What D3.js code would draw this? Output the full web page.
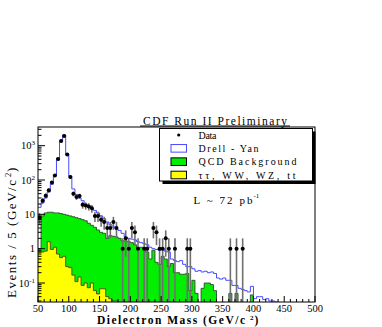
<!DOCTYPE html>
<html>
<head>
<meta charset="utf-8">
<script src="https://cdn.jsdelivr.net/npm/d3@7"></script>
<style>
  body { margin: 0; background: #fff; }
  text { font-family: "Liberation Serif", "Times New Roman", serif; fill: #000; }
</style>
</head>
<body>
<svg id="chart"></svg>
<script>
// 5 GeV bins, lower edges 50 ... 495
const binLow = d3.range(50, 500, 5);
const binWidth = 5;

// observed events per bin
const dataCounts = [
  8, 25, 35, 50, 85, 135, 410, 1370, 1900, 550,
  122, 40, 32, 34, 19, 18, 17, 15, 9, 9,
  7, 6, 4, 4, 6, 4, 0, 1, 2, 1,
  4, 3, 1, 0, 1, 1, 0, 4, 3, 1,
  1, 2, 1, 0, 1, 0, 0, 0, 1, 1,
  0, 0, 0, 0, 0, 0, 0, 0, 0, 0,
  0, 0, 1, 0, 1, 0, 1, 0, 0, 0,
  0, 0, 0, 0, 0, 0, 0, 0, 0, 0,
  0, 0, 0, 0, 0, 0, 0, 0, 0, 0
];

// Drell-Yan (total expectation, outline)
const drellYan = [
  16, 22, 30, 45, 75, 140, 380, 1300, 2050, 560,
  130, 55, 38, 30, 25, 20, 17, 15, 13, 11,
  9, 7.5, 6, 5, 4.3, 3.8, 3.4, 2.8, 2.2, 2.0,
  1.9, 1.8, 1.6, 1.5, 1.4, 1.3, 1.1, 1.0, 0.95, 0.9,
  0.95, 0.85, 0.8, 0.5, 0.45, 0.42, 0.45, 0.35, 0.3, 0.3,
  0.26, 0.22, 0.23, 0.21, 0.22, 0.2, 0.21, 0.19, 0.14, 0.13,
  0.14, 0.12, 0.12, 0.085, 0.085, 0.07, 0.065, 0.06, 0.055, 0.08,
  0.035, 0.04, 0.04, 0.033, 0.035, 0.03, 0.03, 0.028, 0, 0,
  0, 0, 0, 0, 0, 0, 0, 0, 0, 0
];

// QCD background (stacked on top of the small backgrounds)
const qcdBackground = [
  1.0, 9, 11, 11.5, 11.5, 11, 11, 10.5, 10, 9.5,
  9, 8.5, 8, 7.5, 7, 6.5, 5.5, 4.8, 4.2, 3.5,
  3.0, 2.8, 2.0, 2.4, 2.3, 2.2, 2.0, 1.7, 1.7, 1.6,
  1.5, 1.3, 1.1, 1.1, 1.1, 0.8, 0.5, 0.9, 0.4, 0.35,
  0.6, 0.5, 0.3, 0.37, 0.2, 0.2, 0.18, 0.18, 0.19, 0.06,
  0.12, 0.05, 0, 0.07, 0.1, 0.1, 0.09, 0.06, 0, 0,
  0, 0, 0.05, 0, 0.05, 0, 0, 0, 0, 0.045,
  0, 0, 0, 0, 0, 0, 0, 0, 0, 0,
  0, 0, 0, 0, 0, 0, 0, 0, 0, 0
];

// tau tau, WW, WZ, ttbar
const otherBkg = [
  0.8, 0.8, 0.85, 1.6, 0.95, 1.1, 0.7, 0.55, 0.6, 0.3,
  0.28, 0.17, 0.11, 0.15, 0.085, 0.1, 0.073, 0.1, 0.06, 0.048,
  0.068, 0.068, 0.04, 0.035, 0.03, 0.03, 0, 0, 0, 0,
  0, 0, 0, 0, 0, 0, 0, 0, 0, 0,
  0, 0, 0, 0, 0, 0, 0, 0, 0, 0,
  0, 0, 0, 0, 0, 0, 0, 0, 0, 0,
  0, 0, 0, 0, 0, 0, 0, 0, 0, 0,
  0, 0, 0, 0, 0, 0, 0, 0, 0, 0,
  0, 0, 0, 0, 0, 0, 0, 0, 0, 0
];

const xTicks = [50, 100, 150, 200, 250, 300, 350, 400, 450, 500];
const yTicks = [
  { v: 1000, base: "10", exp: "3" },
  { v: 100, base: "10", exp: "2" },
  { v: 10, base: "10", exp: "" },
  { v: 1, base: "1", exp: "" },
  { v: 0.1, base: "10", exp: "-1" }
];
const legendItems = [
  { label: "Data", type: "data" },
  { label: "Drell - Yan", type: "dy" },
  { label: "QCD Background", type: "qcd" },
  { label: "\u03c4\u03c4, WW, WZ, tt", type: "other" }
];

const width = 382, height = 327;
const plotL = 38, plotR = 315, plotT = 127, plotB = 302;

const svg = d3.select("#chart")
    .attr("width", width)
    .attr("height", height);

svg.append("rect").attr("width", width).attr("height", height).attr("fill", "#fff");

const x = d3.scaleLinear().domain([50, 500]).range([plotL, plotR]);
const y = d3.scaleLog().domain([0.028, 3500]).range([plotB, plotT]);

svg.append("clipPath").attr("id", "frame-clip")
  .append("rect")
    .attr("x", plotL).attr("y", plotT)
    .attr("width", plotR - plotL).attr("height", plotB - plotT);

const plot = svg.append("g").attr("clip-path", "url(#frame-clip)");

// step points for a histogram
function stepPoints(values) {
  const pts = [];
  binLow.forEach((lo, i) => {
    const v = values[i] > 0 ? y(values[i]) : plotB + 20;
    pts.push([x(lo), v], [x(lo + binWidth), v]);
  });
  return pts;
}

const area = d3.area().x(d => d[0]).y0(plotB + 20).y1(d => d[1]);
const line = d3.line().x(d => d[0]).y(d => d[1]);

// QCD (green)
const qcdPts = stepPoints(qcdBackground);
plot.append("path").attr("d", area(qcdPts)).attr("fill", "#00f000");
plot.append("path").attr("d", line(qcdPts))
    .attr("fill", "none").attr("stroke", "#2a4a2a").attr("stroke-width", 0.9);

// small backgrounds (yellow)
const otherPts = stepPoints(otherBkg);
plot.append("path").attr("d", area(otherPts)).attr("fill", "#ffff00");
plot.append("path").attr("d", line(otherPts))
    .attr("fill", "none").attr("stroke", "#4a4a20").attr("stroke-width", 0.9);

// Drell-Yan outline
plot.append("path").attr("d", line(stepPoints(drellYan)))
    .attr("fill", "none").attr("stroke", "#4a4aff").attr("stroke-width", 1);

// data with Poisson errors
const pts = binLow.map((lo, i) => ({ lo, n: dataCounts[i] })).filter(d => d.n > 0);
const dataG = plot.append("g");
dataG.selectAll(".err")
  .data(pts)
  .enter().append("line")
    .attr("class", "err")
    .attr("x1", d => x(d.lo + binWidth / 2))
    .attr("x2", d => x(d.lo + binWidth / 2))
    .attr("y1", d => y(d.n + Math.sqrt(d.n)))
    .attr("y2", d => (d.n - Math.sqrt(d.n)) > 0 ? y(d.n - Math.sqrt(d.n)) : plotB + 20)
    .attr("stroke", "#707070").attr("stroke-width", 1.6);
dataG.selectAll(".xerr")
  .data(pts)
  .enter().append("line")
    .attr("class", "xerr")
    .attr("x1", d => x(d.lo))
    .attr("x2", d => x(d.lo + binWidth))
    .attr("y1", d => y(d.n))
    .attr("y2", d => y(d.n))
    .attr("stroke", "#000").attr("stroke-width", 1.2);
dataG.selectAll(".pt")
  .data(pts)
  .enter().append("circle")
    .attr("class", "pt")
    .attr("cx", d => x(d.lo + binWidth / 2))
    .attr("cy", d => y(d.n))
    .attr("r", 2)
    .attr("fill", "#000");

// frame
svg.append("rect")
    .attr("x", plotL).attr("y", plotT)
    .attr("width", plotR - plotL).attr("height", plotB - plotT)
    .attr("fill", "none").attr("stroke", "#000").attr("stroke-width", 1);

// x ticks (major every 50, minor every 10)
const xMinor = d3.range(50, 501, 10);
svg.append("g").selectAll("line")
  .data(xMinor)
  .enter().append("line")
    .attr("x1", d => x(d)).attr("x2", d => x(d))
    .attr("y1", plotB)
    .attr("y2", d => xTicks.includes(d) ? plotB - 6 : plotB - 3)
    .attr("stroke", "#000");

svg.append("g").selectAll("text")
  .data(xTicks)
  .enter().append("text")
    .attr("x", d => x(d))
    .attr("y", 311.5)
    .attr("text-anchor", "middle")
    .attr("font-size", 10.5)
    .text(d => d);

// y ticks
const yMinor = [];
[0.01, 0.1, 1, 10, 100, 1000].forEach(dec => {
  for (let k = 1; k <= 9; k++) {
    const v = k * dec;
    if (v >= 0.028 && v <= 3500) yMinor.push({ v, major: k === 1 });
  }
});
svg.append("g").selectAll("line")
  .data(yMinor)
  .enter().append("line")
    .attr("x1", plotL)
    .attr("x2", d => d.major ? plotL + 7 : plotL + 3.5)
    .attr("y1", d => y(d.v)).attr("y2", d => y(d.v))
    .attr("stroke", "#000");

const yLab = svg.append("g").selectAll("text")
  .data(yTicks)
  .enter().append("text")
    .attr("x", 35)
    .attr("y", d => y(d.v) + 3.5)
    .attr("text-anchor", "end")
    .attr("font-size", 10.5);
yLab.append("tspan").text(d => d.base);
yLab.append("tspan")
    .attr("dy", -4)
    .attr("font-size", 7)
    .text(d => d.exp);

// axis titles
svg.append("text")
    .attr("x", 97).attr("y", 323.5)
    .attr("font-size", 11.5)
    .attr("font-weight", "bold")
    .attr("textLength", 148)
    .attr("lengthAdjust", "spacing")
    .text("Dielectron Mass (GeV/c ");
svg.append("text")
    .attr("x", 250).attr("y", 319.5)
    .attr("font-size", 7)
    .attr("font-weight", "bold")
    .text("2");
svg.append("text")
    .attr("x", 254.5).attr("y", 323.5)
    .attr("font-size", 11.5)
    .attr("font-weight", "bold")
    .text(")");

const yTitle = svg.append("g").attr("transform", "translate(16,298) rotate(-90)");
yTitle.append("text")
    .attr("x", 0).attr("y", 0)
    .attr("font-size", 13)
    .attr("textLength", 118)
    .attr("lengthAdjust", "spacing")
    .text("Events / 5 (GeV/c");
yTitle.append("text")
    .attr("x", 121).attr("y", -5)
    .attr("font-size", 8.5)
    .text("2");
yTitle.append("text")
    .attr("x", 126).attr("y", 0)
    .attr("font-size", 13)
    .text(")");

// title
svg.append("text")
    .attr("x", 143).attr("y", 124.5)
    .attr("font-size", 11.5)
    .attr("textLength", 144)
    .attr("lengthAdjust", "spacing")
    .text("CDF Run II Preliminary");
svg.append("line")
    .attr("x1", 140).attr("x2", 290)
    .attr("y1", 126).attr("y2", 126)
    .attr("stroke", "#000");

// legend with shadow
const lg = { x0: 159.5, y0: 128.5, x1: 312.5, y1: 181 };
svg.append("rect")
    .attr("x", lg.x0 + 3).attr("y", lg.y0 + 3)
    .attr("width", lg.x1 - lg.x0).attr("height", lg.y1 - lg.y0)
    .attr("fill", "#000");
svg.append("rect")
    .attr("x", lg.x0).attr("y", lg.y0)
    .attr("width", lg.x1 - lg.x0).attr("height", lg.y1 - lg.y0)
    .attr("fill", "#fff").attr("stroke", "#000").attr("stroke-width", 1);

const rowY = d3.scalePoint().domain(legendItems.map(d => d.label)).range([135, 175]);
const swatch = { dy: "#fff", qcd: "#00f000", other: "#ffff00" };
const swStroke = { dy: "#4a4aff", qcd: "#000", other: "#000" };
legendItems.forEach(d => {
  const cy = rowY(d.label);
  if (d.type === "data") {
    svg.append("circle").attr("cx", 178.7).attr("cy", cy).attr("r", 1.6).attr("fill", "#000");
  } else {
    svg.append("rect")
        .attr("x", 171).attr("y", cy - 3.8)
        .attr("width", 15.5).attr("height", 7.6)
        .attr("fill", swatch[d.type])
        .attr("stroke", swStroke[d.type]).attr("stroke-width", 1);
  }
});
const legendWidths = { "Data": 18, "Drell - Yan": 60, "QCD Background": 98, "\u03c4\u03c4, WW, WZ, tt": 97 };
svg.append("g").selectAll("text")
  .data(legendItems)
  .enter().append("text")
    .attr("x", 198.5)
    .attr("y", d => rowY(d.label) + 3.5)
    .attr("font-size", 10)
    .attr("textLength", d => legendWidths[d.label])
    .attr("lengthAdjust", "spacing")
    .text(d => d.label);

// luminosity
svg.append("text")
    .attr("x", 193.5).attr("y", 203.5)
    .attr("font-size", 11)
    .attr("textLength", 59)
    .attr("lengthAdjust", "spacing")
    .text("L ~ 72 pb");
svg.append("text")
    .attr("x", 253.5).attr("y", 198)
    .attr("font-size", 7)
    .text("-1");
</script>
</body>
</html>
